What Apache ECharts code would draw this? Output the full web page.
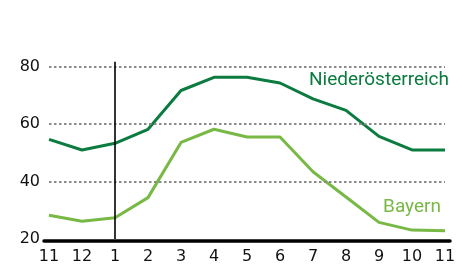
<!DOCTYPE html>
<html>
<head>
<meta charset="utf-8">
<script src="https://cdn.jsdelivr.net/npm/echarts@6/dist/echarts.min.js"></script>
<style>
  html, body { margin: 0; padding: 0; background: #fff; }
  #chart { width: 467px; height: 265px; }
</style>
</head>
<body>
<div id="chart"></div>
<script>
// Monate (Nov bis Nov)
let months = ['11', '12', '1', '2', '3', '4', '5', '6', '7', '8', '9', '10', '11'];
let niederoesterreich = [54.7, 51, 53.3, 58.2, 71.7, 76.3, 76.3, 74.3, 68.8, 64.8, 55.7, 51, 51];
let bayern = [28.3, 26.2, 27.4, 34.4, 53.6, 58.2, 55.5, 55.5, 43.4, 34.6, 25.8, 23.1, 22.9];
let yTicks = [20, 40, 60, 80];

let darkGreen = '#0b7b3f';
let lightGreen = '#78b844';
let font = 'DejaVu Sans';
let labelFont = 'Roboto';
let yMax = 81.72; // etwas Platz oberhalb 80 für die senkrechte Linie
let dotted = { color: '#8a8a8a', width: 1.8, type: [2.5, 2.5] };

let myChart = echarts.init(document.getElementById('chart'));

let option = {
  animation: false,
  grid: [
    { left: 49, right: 22, top: 61.7, bottom: 24.3 },
    { left: 44, right: 17, top: 61.7, bottom: 24.3 }
  ],
  xAxis: [
    {
      type: 'category',
      gridIndex: 0,
      data: months,
      boundaryGap: false,
      axisLine: { show: false },
      axisTick: { show: false },
      axisLabel: { color: '#111', fontFamily: font, fontSize: 16, margin: 10 }
    },
    {
      // nur für die dicke Grundlinie
      type: 'value',
      gridIndex: 1,
      min: 0,
      max: 1,
      axisLine: { show: true, onZero: false, lineStyle: { color: '#000', width: 3.5 } },
      axisTick: { show: false },
      axisLabel: { show: false },
      splitLine: { show: false }
    }
  ],
  yAxis: [
    {
      type: 'value',
      gridIndex: 0,
      min: yTicks[0],
      max: yMax,
      interval: 20,
      axisLine: { show: false },
      axisTick: { show: false },
      axisLabel: {
        color: '#111', fontFamily: font, fontSize: 16, margin: 9,
        formatter: v => (yTicks.indexOf(v) >= 0 ? String(v) : '')
      },
      splitLine: { show: false }
    },
    {
      type: 'value',
      gridIndex: 1,
      min: 0,
      max: 1,
      show: false
    }
  ],
  series: [
    {
      name: 'Niederösterreich',
      type: 'line',
      data: niederoesterreich,
      symbol: 'none',
      z: 3,
      lineStyle: { color: darkGreen, width: 3 },
      markPoint: {
        symbol: 'circle',
        symbolSize: 1,
        itemStyle: { color: 'rgba(0,0,0,0)' },
        label: {
          show: true,
          formatter: 'Niederösterreich',
          color: darkGreen,
          fontFamily: labelFont,
          fontSize: 19,
          position: 'inside'
        },
        data: [{ coord: [10.06, 75.4] }]
      },
      markLine: {
        silent: true,
        symbol: 'none',
        label: { show: false },
        data: [
          { yAxis: 40, lineStyle: dotted },
          { yAxis: 60, lineStyle: dotted },
          { yAxis: 80, lineStyle: dotted },
          [{ coord: [2, 20], lineStyle: { color: '#000', width: 1.6, type: 'solid' } },
           { coord: [2, yMax] }]
        ]
      }
    },
    {
      name: 'Bayern',
      type: 'line',
      data: bayern,
      symbol: 'none',
      z: 3,
      lineStyle: { color: lightGreen, width: 3 },
      markPoint: {
        symbol: 'circle',
        symbolSize: 1,
        itemStyle: { color: 'rgba(0,0,0,0)' },
        label: {
          show: true,
          formatter: 'Bayern',
          color: lightGreen,
          fontFamily: labelFont,
          fontSize: 19,
          position: 'inside'
        },
        data: [{ coord: [11.1, 30.9] }]
      }
    },
    {
      type: 'line',
      xAxisIndex: 1,
      yAxisIndex: 1,
      data: [],
      symbol: 'none'
    }
  ]
};
myChart.setOption(option);
</script>
</body>
</html>
